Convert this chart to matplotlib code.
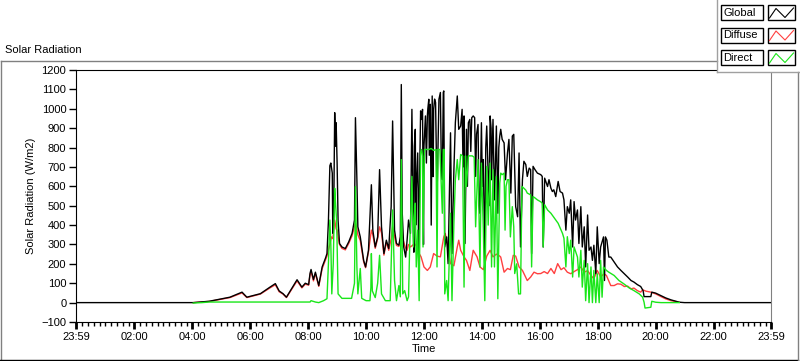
import numpy as np
import matplotlib.pyplot as plt
from matplotlib.patches import Rectangle

plt.rcParams['font.family'] = ['Liberation Sans', 'DejaVu Sans']

# time in minutes after midnight, irradiance in W/m2
global_pts = [
    (-1, 0), (242, 0), (275, 7), (318, 28), (343, 54), (353, 28), (381, 46), (401, 80), (412, 98),
    (420, 60), (428, 46), (435, 28), (457, 118), (467, 80), (474, 100), (481, 93), (484, 152),
    (486, 171), (491, 119), (495, 157), (502, 88), (509, 184), (516, 230), (519, 253), (522, 420),
    (525, 706), (527, 720), (530, 668), (531, 358), (533, 462), (535, 980), (537, 807), (538, 928),
    (540, 721), (542, 426), (545, 305), (550, 287), (557, 279), (564, 313), (571, 357), (576, 426),
    (578, 954), (581, 634), (583, 391), (588, 339), (595, 218), (599, 184), (605, 270), (611, 608),
    (614, 374), (619, 287), (624, 339), (628, 686), (632, 391), (637, 253), (642, 322), (647, 279),
    (652, 495), (655, 937), (659, 374), (663, 305), (668, 296), (671, 339), (673, 1125), (675, 461),
    (678, 287), (682, 235), (685, 322), (688, 426), (692, 357), (695, 997), (697, 547), (699, 260),
    (700, 807), (702, 894), (703, 400), (704, 582), (707, 772), (709, 230), (710, 495), (713, 989),
    (715, 945), (717, 997), (719, 300), (720, 807), (723, 963), (725, 720), (727, 963), (728, 1000),
    (730, 1049), (731, 760), (733, 1023), (735, 400), (737, 1066), (739, 650), (740, 997),
    (742, 1050), (744, 1032), (747, 547), (751, 1049), (754, 1084), (756, 700), (758, 634),
    (760, 1084), (761, 1092), (763, 287), (767, 339), (770, 201), (775, 876), (778, 253), (782, 686),
    (785, 928), (789, 1066), (792, 894), (796, 911), (799, 997), (801, 700), (803, 963), (805, 305),
    (808, 894), (810, 600), (812, 928), (815, 945), (817, 780), (819, 954), (822, 963), (825, 954),
    (827, 651), (829, 870), (832, 919), (834, 500), (836, 461), (839, 928), (841, 600), (843, 738),
    (846, 184), (848, 800), (850, 911), (853, 668), (855, 500), (857, 963), (859, 900), (860, 634),
    (863, 945), (866, 530), (868, 700), (870, 911), (873, 461), (875, 800), (877, 859), (879, 894),
    (882, 842), (886, 824), (889, 634), (893, 772), (896, 842), (900, 565), (903, 859), (906, 868),
    (910, 495), (914, 443), (917, 772), (920, 287), (924, 634), (927, 729), (931, 712), (934, 651),
    (938, 694), (941, 686), (943, 253), (946, 703), (950, 686), (955, 668), (962, 660), (965, 651),
    (967, 287), (970, 642), (976, 599), (979, 634), (983, 590), (986, 573), (989, 582), (993, 547),
    (998, 625), (1002, 573), (1007, 565), (1010, 530), (1014, 374), (1017, 495), (1021, 461),
    (1024, 530), (1028, 287), (1031, 521), (1034, 426), (1038, 478), (1041, 305), (1045, 495),
    (1048, 287), (1052, 391), (1055, 184), (1059, 452), (1062, 270), (1066, 287), (1069, 218),
    (1072, 296), (1076, 149), (1079, 391), (1083, 201), (1086, 287), (1092, 339), (1094, 114),
    (1096, 339), (1099, 322), (1103, 235), (1107, 235), (1114, 210), (1121, 184), (1128, 166),
    (1135, 149), (1142, 132), (1149, 114), (1155, 106), (1162, 93), (1169, 83), (1174, 62),
    (1176, 31), (1190, 31), (1192, 54), (1200, 49), (1211, 36), (1221, 24), (1232, 14), (1249, 2),
    (1260, 0), (1439, 0)]

diffuse_pts = [
    (242, 0), (275, 6), (318, 26), (343, 50), (353, 26), (381, 44), (401, 76), (412, 92),
    (420, 56), (428, 44), (435, 26), (457, 112), (467, 76), (474, 95), (481, 90), (484, 145),
    (486, 160), (491, 112), (495, 150), (502, 84), (509, 175), (519, 240), (525, 300), (528, 339),
    (531, 330), (535, 426), (538, 380), (540, 374), (542, 339), (545, 300), (550, 280), (557, 272),
    (564, 305), (571, 345), (576, 390), (578, 410), (581, 380), (583, 350), (588, 320), (595, 210),
    (599, 180), (605, 262), (611, 374), (614, 350), (619, 280), (624, 330), (628, 391), (632, 360),
    (637, 245), (642, 312), (647, 270), (652, 330), (655, 391), (659, 340), (663, 295), (668, 290),
    (671, 330), (673, 400), (676, 330), (681, 287), (685, 270), (688, 300), (692, 287), (696, 295),
    (700, 305), (705, 290), (710, 253), (714, 236), (720, 184), (727, 166), (733, 184), (740, 253),
    (747, 240), (754, 236), (761, 339), (764, 357), (768, 305), (775, 201), (782, 190), (789, 287),
    (792, 322), (796, 270), (803, 236), (808, 218), (815, 166), (822, 270), (830, 236), (836, 184),
    (843, 170), (850, 240), (857, 270), (863, 236), (870, 250), (877, 240), (879, 235), (886, 157),
    (893, 176), (899, 170), (905, 244), (910, 240), (917, 184), (924, 166), (934, 114), (941, 132),
    (948, 157), (955, 149), (962, 150), (969, 160), (976, 150), (983, 176), (990, 150), (997, 201),
    (1004, 170), (1010, 180), (1017, 157), (1024, 149), (1031, 160), (1038, 170), (1045, 184),
    (1052, 157), (1059, 165), (1066, 140), (1072, 123), (1079, 166), (1086, 132), (1093, 149),
    (1098, 140), (1107, 88), (1114, 88), (1121, 97), (1128, 95), (1135, 83), (1142, 85), (1149, 71),
    (1155, 75), (1162, 62), (1169, 54), (1173, 66), (1180, 59), (1190, 54), (1200, 45), (1211, 31),
    (1221, 19), (1232, 10), (1249, 2)]

direct_pts = [
    (242, -2), (260, 0), (275, 3), (484, 3), (486, 10), (495, 3), (502, 0), (512, 10),
    (519, 20), (522, 200), (525, 426), (527, 300), (529, 45), (532, 200), (535, 590), (537, 500),
    (539, 426), (542, 45), (550, 22), (560, 22), (570, 22), (576, 100), (578, 599), (581, 184),
    (583, 45), (588, 176), (591, 22), (600, 10), (608, 10), (610, 78), (611, 253), (613, 60),
    (619, 26), (624, 100), (628, 244), (632, 45), (640, 10), (650, 10), (655, 478), (659, 114),
    (663, 10), (668, 88), (671, 30), (673, 738), (676, 45), (680, 62), (685, 10), (688, 30),
    (690, 253), (695, 651), (698, 287), (700, 441), (702, 513), (704, 184), (707, 374), (710, 10),
    (713, 772), (715, 790), (717, 755), (718, 287), (721, 790), (725, 790), (730, 790), (735, 795),
    (740, 785), (745, 790), (747, 184), (749, 790), (753, 790), (758, 461), (760, 790), (762, 790),
    (763, 45), (767, 114), (770, 10), (775, 461), (778, 10), (782, 410), (785, 634), (789, 738),
    (792, 634), (796, 764), (800, 757), (803, 80), (806, 757), (808, 599), (812, 757), (816, 757),
    (820, 757), (824, 750), (827, 391), (832, 738), (836, 184), (839, 720), (843, 374), (846, 10),
    (850, 703), (853, 400), (857, 720), (860, 184), (863, 686), (866, 184), (870, 651), (873, 20),
    (877, 616), (879, 668), (882, 660), (886, 668), (888, 374), (890, 600), (893, 634), (896, 634),
    (899, 339), (903, 495), (906, 391), (908, 150), (912, 200), (916, 45), (920, 45), (923, 599),
    (927, 590), (931, 580), (934, 565), (938, 560), (941, 556), (943, 184), (946, 547), (950, 540),
    (955, 530), (962, 520), (965, 513), (967, 287), (970, 505), (976, 478), (983, 461), (989, 440),
    (993, 426), (998, 409), (1007, 357), (1010, 332), (1014, 184), (1017, 340), (1021, 253),
    (1024, 322), (1028, 132), (1031, 287), (1038, 235), (1041, 132), (1045, 270), (1048, 80),
    (1052, 218), (1055, 10), (1059, 201), (1062, 0), (1066, 184), (1069, 0), (1072, 166), (1076, 0),
    (1079, 149), (1083, 0), (1086, 218), (1089, 28), (1092, 184), (1098, 166), (1103, 157),
    (1114, 140), (1124, 114), (1134, 97), (1145, 76), (1155, 62), (1166, 45), (1173, 28), (1176, 2),
    (1178, -28), (1190, -24), (1192, 7), (1200, 2), (1211, 0), (1249, 0)]

series_names = ['Global', 'Diffuse', 'Direct']
series_colors = ['black', '#ff4040', '#19e619']
series_z = [3, 2, 4]

x_tick_pos = [-1, 120, 240, 360, 480, 600, 720, 840, 960, 1080, 1200, 1320, 1439]
x_tick_labels = ['23:59', '02:00', '04:00', '06:00', '08:00', '10:00', '12:00',
                 '14:00', '16:00', '18:00', '20:00', '22:00', '23:59']
y_ticks = list(range(-100, 1201, 100))

W, H = 800, 361
fig = plt.figure(figsize=(W / 100, H / 100), dpi=100)
ax = fig.add_axes([76 / W, 1 - 322 / H, (771 - 76) / W, (322 - 70) / H])

for pts, col, z in zip([global_pts, diffuse_pts, direct_pts], series_colors, series_z):
    t, v = np.array(pts, dtype=float).T
    ax.plot(t, v, color=col, lw=1.0, zorder=z)

ax.set_xlim(-1, 1439)
ax.set_ylim(-100, 1200)
ax.set_xticks(x_tick_pos)
ax.set_xticklabels(x_tick_labels)
ax.set_xticks([m for m in range(0, 1440, 12) if m % 120 != 0], minor=True)
ax.set_yticks(y_ticks)
ax.tick_params(axis='both', labelsize=8, direction='out', color='black')
ax.tick_params(axis='x', which='major', length=5, width=2, pad=2)
ax.tick_params(axis='x', which='minor', length=3, width=1)
ax.tick_params(axis='y', which='major', length=5, width=1, pad=2)
for s in ['left', 'top', 'bottom']:
    ax.spines[s].set_color('black')
ax.spines['right'].set_color('#808080')
ax.set_xlabel('Time', fontsize=8, labelpad=2)
ax.set_ylabel('Solar Radiation (W/m2)', fontsize=8, labelpad=4)

# panel frame, caption and legend drawn in pixel coordinates
ov = fig.add_axes([0, 0, 1, 1], zorder=5)
ov.set_xlim(0, W)
ov.set_ylim(H, 0)
ov.axis('off')
ov.plot([0.5, 717], [61, 61], color='#808080', lw=1)
ov.plot([0.5, 0.5], [61, 360], color='#808080', lw=1)
ov.plot([0, 798], [359.5, 359.5], color='black', lw=1)
ov.plot([797.5, 797.5], [72, 360], color='#808080', lw=1)
ov.text(5, 50, 'Solar Radiation', fontsize=8, va='center', ha='left')

ov.add_patch(Rectangle((717, 0), 83, 72, facecolor='white', edgecolor='none'))
ov.plot([717, 717], [0, 72], color='#a0a0a0', lw=1)
ov.plot([717, 800], [72, 72], color='#a0a0a0', lw=1)
for i, (name, col) in enumerate(zip(series_names, series_colors)):
    y0 = 5 + 22.5 * i
    ov.add_patch(Rectangle((721, y0), 42, 15, facecolor='white', edgecolor='black', lw=1))
    ov.text(723, y0 + 7.8, name, fontsize=8, va='center', ha='left')
    ov.add_patch(Rectangle((768, y0), 27, 15, facecolor='white', edgecolor='black', lw=1))
    ov.plot([769.5, 776, 785, 793.5], [y0 + 13, y0 + 3.5, y0 + 12.5, y0 + 3], color=col, lw=0.8)

fig.savefig('out.png', dpi=100)
